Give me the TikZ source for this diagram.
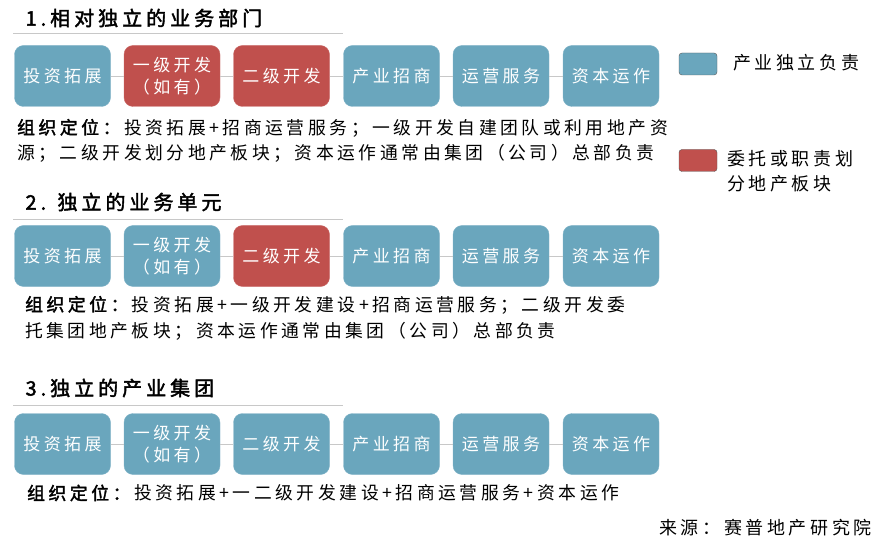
\documentclass[tikz,border=0pt]{standalone}
\usepackage{fontspec}
\setmainfont{Noto Sans CJK SC}[LetterSpace=20, BoldFont={Noto Sans CJK SC}, BoldFeatures={FakeBold=2}]
\definecolor{bluebox}{HTML}{6AA6BD}
\definecolor{redbox}{HTML}{C0504D}
\definecolor{linegray}{HTML}{C8C8C8}

\begin{document}
\begin{tikzpicture}[
    x=1pt, y=-1pt,
    box/.style={rectangle, fill=bluebox, draw=bluebox!85!white, minimum width=96pt, minimum height=61pt, align=center, rounded corners=9pt, text=white, font=\fontsize{17}{22}\selectfont, inner sep=1pt},
    redb/.style={box, fill=redbox, draw=redbox!85!white},
    link/.style={linegray, line width=0.8pt},
    title/.style={anchor=west, font=\fontsize{20}{26}\selectfont\bfseries},
    desc/.style={anchor=west, font=\fontsize{17.8}{22}\selectfont, inner sep=0pt},
    legend/.style={rectangle, draw=gray!70!black, line width=0.4pt, minimum width=38pt, minimum height=22pt, rounded corners=3pt}
]
\useasboundingbox (0,0) rectangle (881,548);

% Row 1
\node[title] (t1) at (22,18) {1.相对独立的业务部门};
\draw[linegray, line width=0.6pt] (13,33) -- (343,33);
\node[box] (a1) at (62.5,76) {投资拓展};
\node[redb] (a2) at (172,76) {一级开发\\（如有）};
\node[redb] (a3) at (281.5,76) {二级开发};
\node[box] (a4) at (391.5,76) {产业招商};
\node[box] (a5) at (501,76) {运营服务};
\node[box] (a6) at (611,76) {资本运作};
\node[desc] (d1a) at (17,128) {\textbf{组织定位：}投资拓展+招商运营服务；一级开发自建团队或利用地产资};
\node[desc] (d1b) at (17,153) {源；二级开发划分地产板块；资本运作通常由集团（公司）总部负责};

% Row 2
\node[title] (t2) at (22,202) {2. 独立的业务单元};
\draw[linegray, line width=0.6pt] (13,219) -- (343,219);
\node[box] (b1) at (62.5,256) {投资拓展};
\node[box] (b2) at (172,256) {一级开发\\（如有）};
\node[redb] (b3) at (281.5,256) {二级开发};
\node[box] (b4) at (391.5,256) {产业招商};
\node[box] (b5) at (501,256) {运营服务};
\node[box] (b6) at (611,256) {资本运作};
\node[desc] (d2a) at (25,305) {\textbf{组织定位：}投资拓展+一级开发建设+招商运营服务；二级开发委};
\node[desc] (d2b) at (25,331) {托集团地产板块；资本运作通常由集团（公司）总部负责};

% Row 3
\node[title] (t3) at (22,388) {3.独立的产业集团};
\draw[linegray, line width=0.6pt] (13,405) -- (343,405);
\node[box] (c1) at (62.5,444) {投资拓展};
\node[box] (c2) at (172,444) {一级开发\\（如有）};
\node[box] (c3) at (281.5,444) {二级开发};
\node[box] (c4) at (391.5,444) {产业招商};
\node[box] (c5) at (501,444) {运营服务};
\node[box] (c6) at (611,444) {资本运作};
\node[desc] (d3) at (27,493) {\textbf{组织定位：}投资拓展+一二级开发建设+招商运营服务+资本运作};

% Links
\draw[link] (a1) -- (a2);
\draw[link] (a2) -- (a3);
\draw[link] (a3) -- (a4);
\draw[link] (a4) -- (a5);
\draw[link] (a5) -- (a6);
\draw[link] (b1) -- (b2);
\draw[link] (b2) -- (b3);
\draw[link] (b3) -- (b4);
\draw[link] (b4) -- (b5);
\draw[link] (b5) -- (b6);
\draw[link] (c1) -- (c2);
\draw[link] (c2) -- (c3);
\draw[link] (c3) -- (c4);
\draw[link] (c4) -- (c5);
\draw[link] (c5) -- (c6);

% Legend
\node[legend, fill=bluebox] (lgb) at (698,64) {};
\node[desc, font=\fontsize{18}{22}\selectfont] (lgbt) at (733,63) {产业独立负责};
\node[legend, fill=redbox] (lgr) at (698,160.5) {};
\node[desc, anchor=north west, align=left, font=\fontsize{18}{25}\selectfont] (lgrt) at (727,150) {委托或职责划\\分地产板块};

% Source
\node[desc, anchor=east, font=\fontsize{18}{22}\selectfont] (src) at (872,528) {来源：赛普地产研究院};

\end{tikzpicture}
\end{document}
